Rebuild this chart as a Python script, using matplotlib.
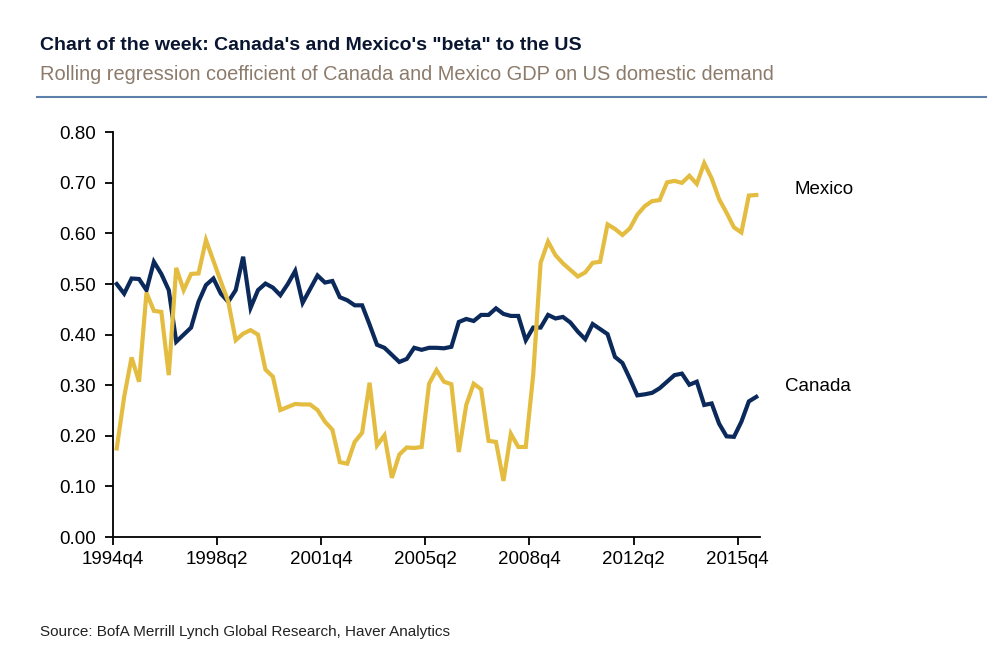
import matplotlib
matplotlib.use("Agg")
import matplotlib.pyplot as plt
from matplotlib import font_manager

names = {f.name for f in font_manager.fontManager.ttflist}
FAM = ['Liberation Sans Narrow'] if 'Liberation Sans Narrow' in names else ['Liberation Sans']
FAM = FAM + ['DejaVu Sans']
plt.rcParams['font.family'] = FAM

canada = [0.500, 0.481, 0.511, 0.510, 0.488, 0.544, 0.520, 0.488, 0.386, 0.400,
          0.414, 0.465, 0.498, 0.511, 0.481, 0.465, 0.488, 0.554, 0.453, 0.488,
          0.501, 0.493, 0.478, 0.500, 0.526, 0.463, 0.490, 0.517, 0.503, 0.506,
          0.474, 0.468, 0.458, 0.458, 0.420, 0.380, 0.374, 0.360, 0.346, 0.352,
          0.374, 0.370, 0.374, 0.374, 0.373, 0.376, 0.425, 0.431, 0.427, 0.439,
          0.439, 0.452, 0.441, 0.437, 0.437, 0.389, 0.414, 0.414, 0.439, 0.432,
          0.435, 0.424, 0.406, 0.391, 0.421, 0.411, 0.401, 0.356, 0.344, 0.313,
          0.280, 0.282, 0.285, 0.294, 0.307, 0.320, 0.323, 0.301, 0.307, 0.261,
          0.264, 0.224, 0.199, 0.198, 0.228, 0.268, 0.277]

mexico = [0.175, 0.277, 0.355, 0.307, 0.483, 0.447, 0.445, 0.320, 0.532, 0.488,
          0.520, 0.521, 0.587, 0.546, 0.505, 0.465, 0.389, 0.402, 0.409, 0.400,
          0.331, 0.317, 0.251, 0.257, 0.263, 0.262, 0.262, 0.251, 0.228, 0.212,
          0.148, 0.145, 0.188, 0.206, 0.305, 0.181, 0.201, 0.117, 0.163, 0.177,
          0.176, 0.178, 0.303, 0.330, 0.307, 0.302, 0.168, 0.261, 0.303, 0.292,
          0.190, 0.188, 0.111, 0.204, 0.178, 0.178, 0.320, 0.542, 0.584, 0.557,
          0.541, 0.528, 0.515, 0.523, 0.542, 0.544, 0.618, 0.609, 0.597, 0.610,
          0.637, 0.654, 0.664, 0.666, 0.701, 0.704, 0.700, 0.714, 0.698, 0.739,
          0.709, 0.668, 0.641, 0.612, 0.602, 0.675, 0.676]

tick_labels = ['1994q4', '1998q2', '2001q4', '2005q2', '2008q4', '2012q2', '2015q4']
tick_step = 14
yticks = [0.0, 0.1, 0.2, 0.3, 0.4, 0.5, 0.6, 0.7, 0.8]

NAVY = '#0b2a5b'
GOLD = '#e3bc40'

fig = plt.figure(figsize=(10.02, 6.48), dpi=100)
ax = fig.add_axes([113/1002, 1-537/648, (760-113)/1002, (537-132.3)/648])

n = len(canada)
xs = [i + 0.5 for i in range(n)]
ax.plot(xs, canada, color=NAVY, lw=3.0, solid_joinstyle='miter')
ax.plot(xs, mexico, color=GOLD, lw=3.0, solid_joinstyle='miter')

ax.set_xlim(0, n)
ax.set_ylim(0, 0.8)
ax.set_yticks(yticks)
ax.set_yticklabels([f'{v:.2f}' for v in yticks])
ax.set_xticks([i * tick_step for i in range(len(tick_labels))])
ax.set_xticklabels(tick_labels)
for s in ['top', 'right']:
    ax.spines[s].set_visible(False)
for s in ['left', 'bottom']:
    ax.spines[s].set_linewidth(1.3)
ax.tick_params(axis='both', direction='out', length=6, width=1.3, labelsize=13.5, colors='black')
ax.tick_params(axis='y', pad=6)
ax.tick_params(axis='x', pad=4)

ax.text(n + 4.7, mexico[-1] + 0.01, 'Mexico', fontsize=13.5, va='center', ha='left')
ax.text(n + 3.4, canada[-1] + 0.02, 'Canada', fontsize=13.5, va='center', ha='left')

fig.text(40/1002, 1-45/648, 'Chart of the week: Canada\'s and Mexico\'s "beta" to the US',
         fontsize=14, fontweight='bold', color='#0a1530', va='center', ha='left')
fig.text(40/1002, 1-75/648, 'Rolling regression coefficient of Canada and Mexico GDP on US domestic demand',
         fontsize=14.4, color='#8c7b6b', va='center', ha='left')
fig.add_artist(plt.Line2D([37/1002, 986/1002], [1-97/648, 1-97/648], color='#5d7fab', lw=1.5))
fig.text(40/1002, 1-632/648, 'Source: BofA Merrill Lynch Global Research, Haver Analytics',
         fontsize=11, color='#222222', va='center', ha='left')

fig.savefig('out.png', dpi=100)
